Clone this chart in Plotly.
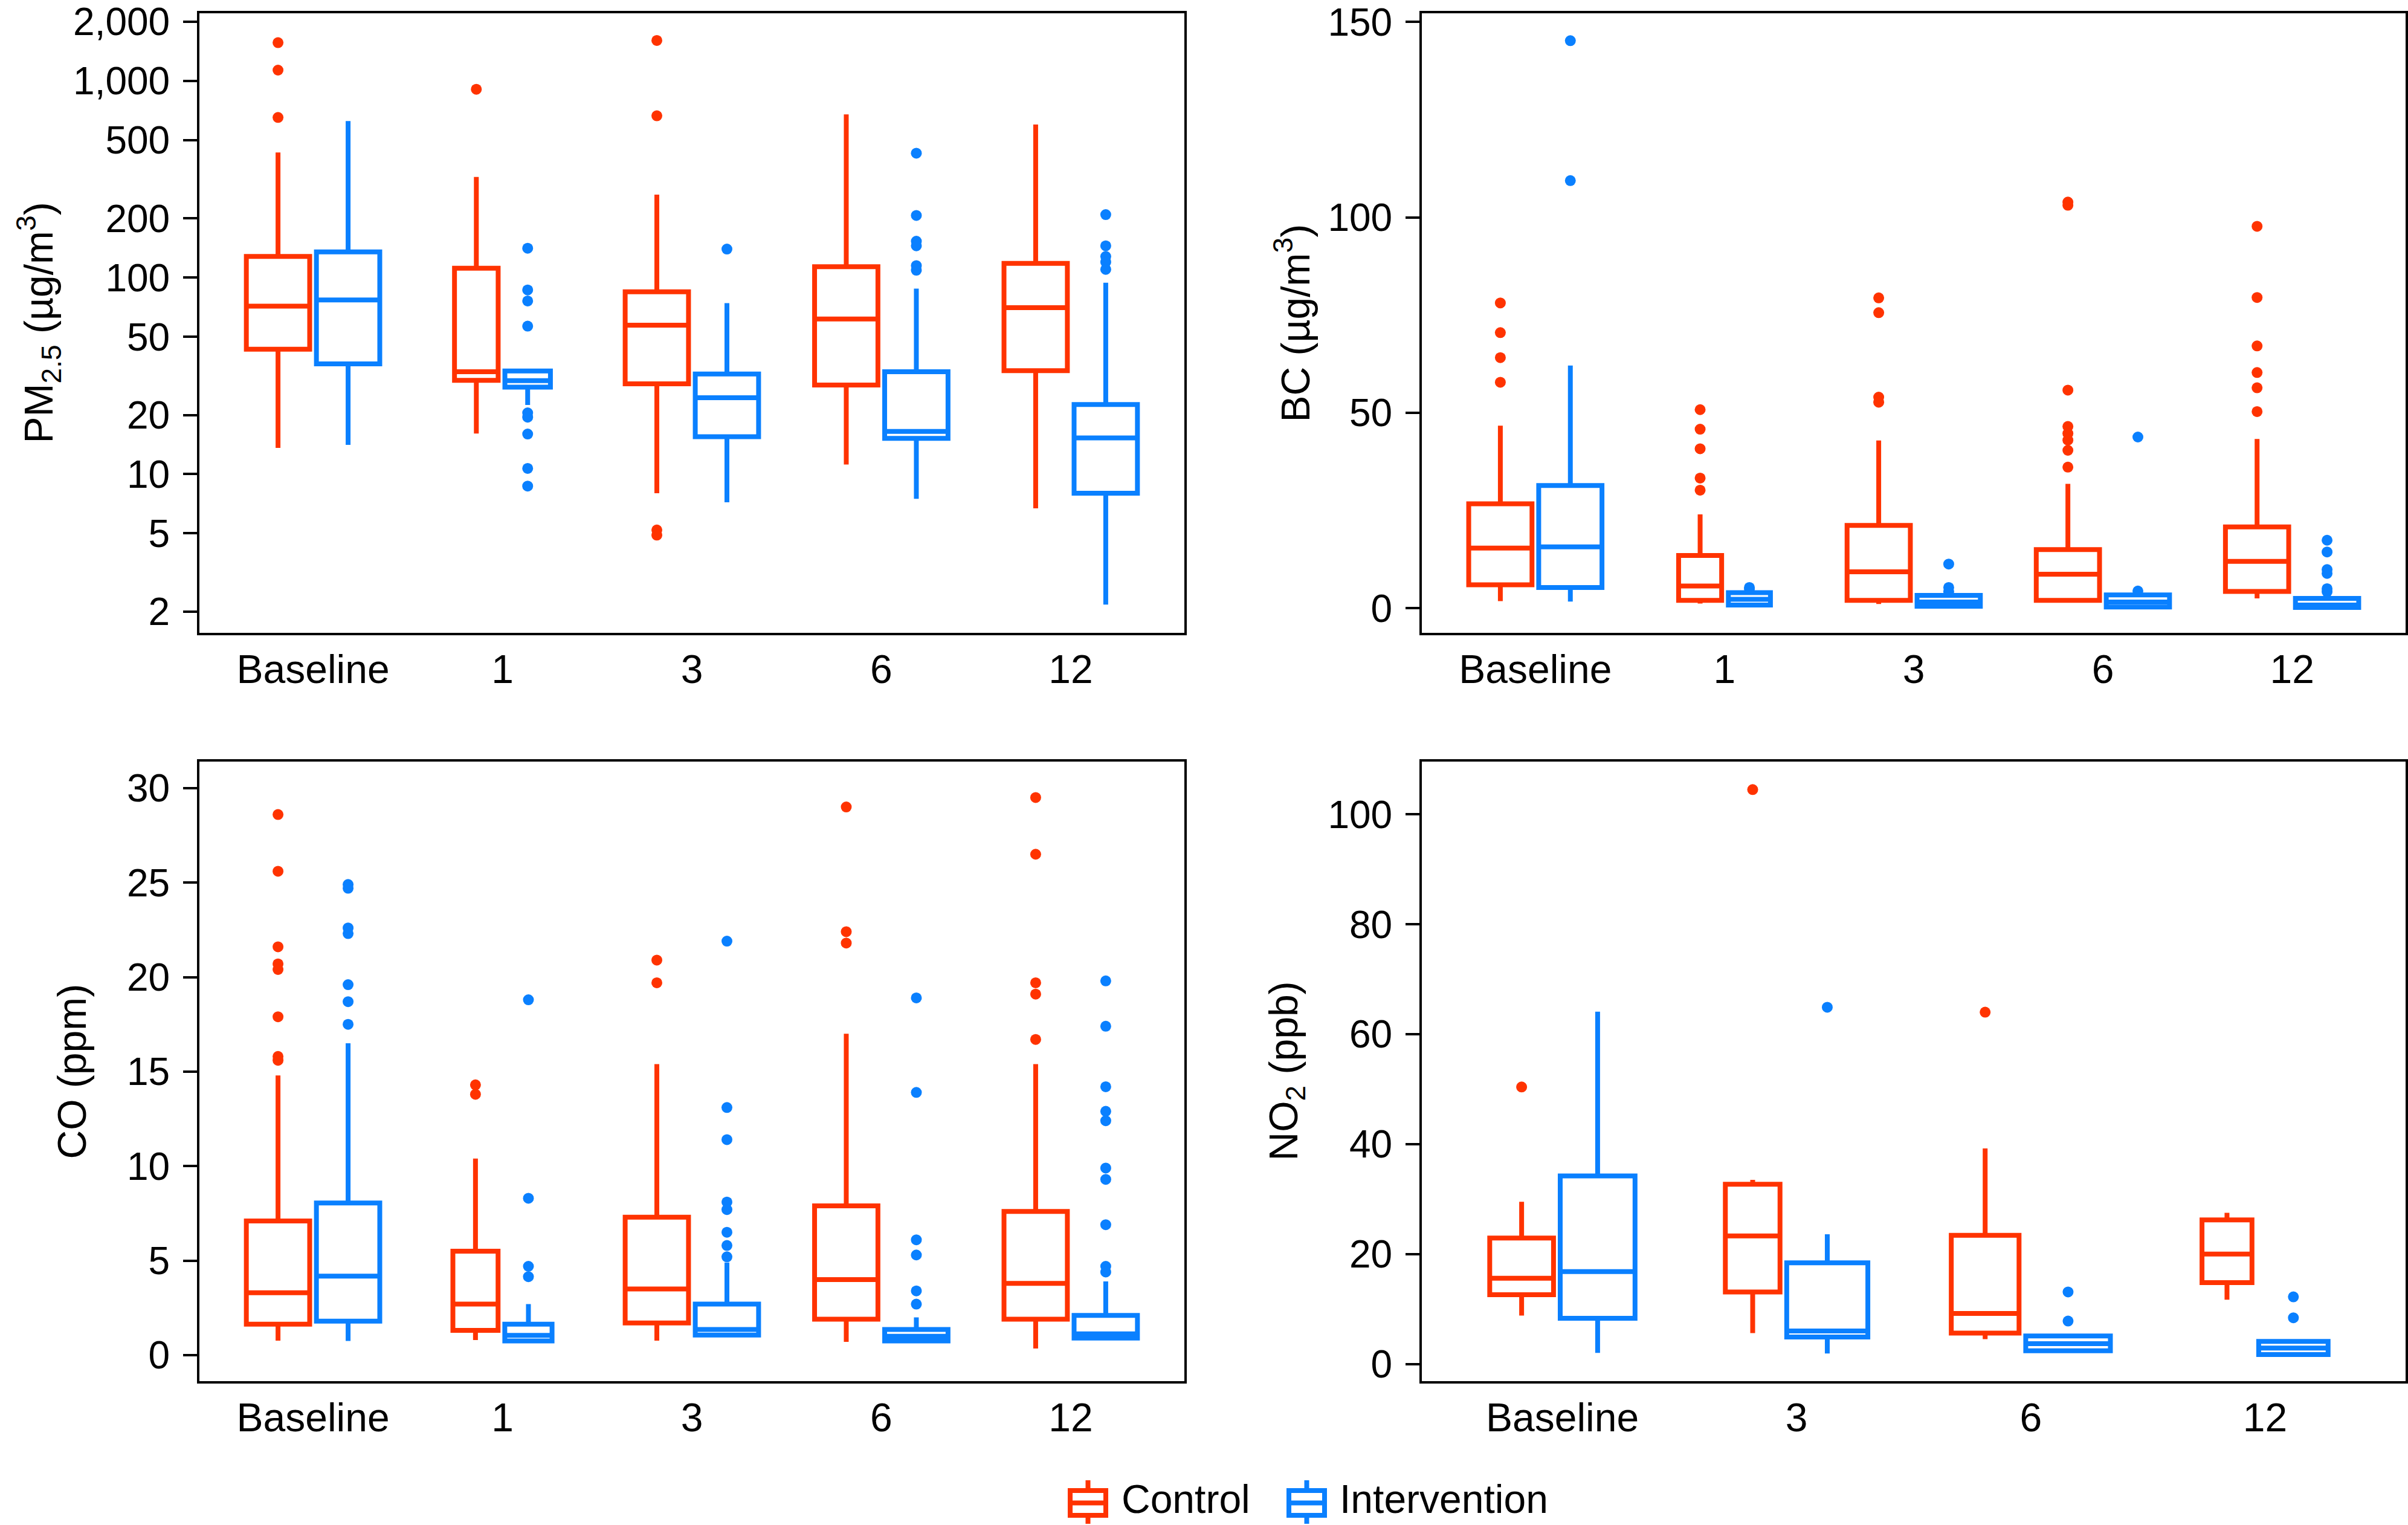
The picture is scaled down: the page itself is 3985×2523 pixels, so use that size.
import plotly.graph_objects as go

# ---- data ----
# each box: (lower whisker, q1, median, q3, upper whisker)
PM_CATS = ["Baseline", "1", "3", "6", "12"]
PM_CONTROL = [(13.6, 43.2, 71.5, 128, 433), (16.1, 30.0, 33.2, 111.6, 325), (8.0, 28.8, 57.2, 84.7, 264),
              (11.2, 28.4, 61.5, 113.5, 676), (6.7, 33.6, 70.3, 118, 600)]
PM_INTERV = [(14.1, 36.4, 76.9, 135, 625), (22.5, 27.7, 29.9, 33.5, 34.2), (7.2, 15.5, 24.5, 32.3, 74.1),
             (7.5, 15.2, 16.5, 33.2, 87.9), (2.17, 8.0, 15.3, 22.6, 94.1)]
PM_CONTROL_OUT = [[1566, 1135, 652], [907], [1607, 665, 5.2, 4.9], [], []]
PM_INTERV_OUT = [[], [141, 86.5, 76, 56.6, 20.5, 19.5, 16, 10.7, 8.7], [139.6],
                 [429, 207, 153, 145, 115, 109], [209, 145, 128, 120, 110]]

BC_CATS = ["Baseline", "1", "3", "6", "12"]
BC_CONTROL = [(1.8, 6.0, 15.4, 26.7, 46.7), (1.2, 2.0, 5.7, 13.5, 24.0), (1.1, 2.0, 9.3, 21.2, 42.9),
              (1.8, 2.0, 8.7, 15.0, 31.8), (2.5, 4.3, 12.0, 20.8, 43.3)]
BC_INTERV = [(1.7, 5.3, 15.7, 31.4, 62.1), (0.2, 0.8, 2.3, 4.0, 4.6), (0.1, 0.5, 1.6, 3.3, 3.6),
             (0.2, 0.3, 1.6, 3.4, 3.6), (0.0, 0.2, 0.8, 2.5, 3.0)]
BC_CONTROL_OUT = [[78.1, 70.5, 64.1, 57.8], [50.8, 45.8, 40.8, 33.3, 30.2], [79.4, 75.6, 54.0, 52.7],
                  [103.9, 103.1, 55.8, 46.5, 44.7, 43.0, 40.4, 36.1], [97.7, 79.5, 67.1, 60.3, 56.4, 50.3]]
BC_INTERV_OUT = [[145.2, 109.4], [5.3, 4.9], [11.3, 5.3, 4.2], [43.8, 4.4], [17.4, 14.4, 9.9, 8.9, 5.0, 4.2]]

CO_CATS = ["Baseline", "1", "3", "6", "12"]
CO_CONTROL = [(0.77, 1.64, 3.3, 7.1, 14.8), (0.8, 1.31, 2.7, 5.5, 10.4), (0.77, 1.7, 3.5, 7.3, 15.4),
              (0.7, 1.9, 4.0, 7.9, 17.0), (0.35, 1.9, 3.8, 7.6, 15.4)]
CO_INTERV = [(0.75, 1.8, 4.18, 8.05, 16.5), (0.7, 0.75, 1.05, 1.64, 2.7), (0.94, 1.06, 1.36, 2.7, 4.9),
             (0.7, 0.75, 1.0, 1.36, 2.0), (0.8, 0.9, 1.13, 2.1, 3.9)]
CO_CONTROL_OUT = [[28.6, 25.6, 21.6, 20.7, 20.4, 17.9, 15.8, 15.6], [14.3, 13.8], [20.9, 19.7],
                  [29.0, 22.4, 21.8], [29.5, 26.5, 19.7, 19.1, 16.7]]
CO_INTERV_OUT = [[24.9, 24.7, 22.6, 22.3, 19.6, 18.7, 17.5], [18.8, 8.3, 4.7, 4.15],
                 [21.9, 13.1, 11.4, 8.1, 7.7, 6.5, 5.8, 5.2], [18.9, 13.9, 6.1, 5.3, 3.4, 2.7],
                 [19.8, 17.4, 14.2, 12.9, 12.4, 9.9, 9.3, 6.9, 4.7, 4.4]]

NO2_CATS = ["Baseline", "3", "6", "12"]
NO2_CONTROL = [(8.8, 12.6, 15.6, 22.9, 29.5), (5.6, 13.1, 23.3, 32.7, 33.5), (4.5, 5.6, 9.2, 23.4, 39.2),
               (11.7, 14.8, 20.0, 26.2, 27.5)]
NO2_INTERV = [(2.0, 8.3, 16.8, 34.2, 64.1), (1.9, 4.9, 6.0, 18.4, 23.6), (2.4, 2.4, 3.7, 5.1, 5.1),
              (1.7, 1.7, 2.9, 4.1, 4.1)]
NO2_CONTROL_OUT = [[50.4], [104.5], [64.0], []]
NO2_INTERV_OUT = [[], [64.9], [13.1, 7.8], [12.2, 8.4]]

PM_TICKS = [2, 5, 10, 20, 50, 100, 200, 500, 1000, 2000]
PM_TICKTEXT = ["2", "5", "10", "20", "50", "100", "200", "500", "1,000", "2,000"]

GROUPS = ["Control", "Intervention"]

# ---- styling ----
RED = "#ff3300"
BLUE = "#0a80ff"
FONT = "Liberation Sans, Arial, Helvetica, sans-serif"
W, H = 3985, 2523
LW = 8  # box line width (px)

# box widths (outer, in category units) - varwidth in the original
S = 0.36
panels = [
    dict(x="x", y="y", cats=PM_CATS, ctrl=PM_CONTROL, intv=PM_INTERV, cout=PM_CONTROL_OUT, iout=PM_INTERV_OUT,
         wc=[S, 0.256, S, S, S], wi=[S, 0.266, S, S, S], unit=313.5, gap=0.01),
    dict(x="x2", y="y2", cats=BC_CATS, ctrl=BC_CONTROL, intv=BC_INTERV, cout=BC_CONTROL_OUT, iout=BC_INTERV_OUT,
         wc=[S, 0.253, S, S, S], wi=[S, 0.248, S, S, S], unit=313.5, gap=0.01),
    dict(x="x3", y="y3", cats=CO_CATS, ctrl=CO_CONTROL, intv=CO_INTERV, cout=CO_CONTROL_OUT, iout=CO_INTERV_OUT,
         wc=[S, 0.264, S, S, S], wi=[S, 0.275, S, S, S], unit=313.5, gap=0.01),
    dict(x="x4", y="y4", cats=NO2_CATS, ctrl=NO2_CONTROL, intv=NO2_INTERV, cout=NO2_CONTROL_OUT, iout=NO2_INTERV_OUT,
         wc=[0.293, 0.254, 0.310, 0.234], wi=[0.340, 0.367, 0.382, 0.317], unit=388.0, gap=0.008),
]

fig = go.Figure()

for p in panels:
    lw_u = LW / p["unit"]
    for i, cat in enumerate(p["cats"]):
        wc, wi = p["wc"][i], p["wi"][i]
        total = wc + p["gap"] + wi
        left = i - total / 2
        xc = left + wc / 2
        xi = left + wc + p["gap"] + wi / 2
        for name, color, stats, outs, xpos, w in [
            (GROUPS[0], RED, p["ctrl"][i], p["cout"][i], xc, wc),
            (GROUPS[1], BLUE, p["intv"][i], p["iout"][i], xi, wi),
        ]:
            lo, q1, med, q3, hi = stats
            fig.add_trace(go.Box(
                x=[xpos], q1=[q1], median=[med], q3=[q3], lowerfence=[lo], upperfence=[hi],
                width=w - lw_u, whiskerwidth=0, fillcolor="white",
                line=dict(color=color, width=LW), boxpoints=False,
                name=name, showlegend=False,
                xaxis=p["x"], yaxis=p["y"], hoverinfo="skip",
            ))
            if outs:
                fig.add_trace(go.Scatter(
                    x=[xpos] * len(outs), y=outs, mode="markers",
                    marker=dict(color=color, size=18, line=dict(width=0)),
                    showlegend=False, xaxis=p["x"], yaxis=p["y"], hoverinfo="skip",
                ))

x_left = [330 / W, 1960 / W]
x_right = [2353 / W, 3981 / W]
y_top = [1 - 1047 / H, 1 - 22 / H]
y_bot = [1 - 2285 / H, 1 - 1260 / H]

axis_common = dict(showline=True, linewidth=4, linecolor="black", mirror=True, showgrid=False, zeroline=False,
                   automargin=False)
xfont = dict(tickfont=dict(family=FONT, size=66, color="black"), ticks="")
ytick = dict(ticks="outside", ticklen=23, tickwidth=4, tickcolor="black", ticklabelstandoff=9,
             tickfont=dict(family=FONT, size=64, color="black"))

fig.update_layout(
    width=W, height=H, margin=dict(l=0, r=0, t=0, b=0, autoexpand=False),
    paper_bgcolor="white", plot_bgcolor="white", showlegend=False,
    font=dict(family=FONT, size=66, color="black"),
    xaxis=dict(domain=x_left, anchor="y", range=[-0.6, 4.6], tickvals=list(range(5)), ticktext=PM_CATS,
               **xfont, **axis_common),
    yaxis=dict(domain=y_top, anchor="x", type="log", range=[0.193, 3.344], tickvals=PM_TICKS,
               ticktext=PM_TICKTEXT, **ytick, **axis_common),
    xaxis2=dict(domain=x_right, anchor="y2", range=[-0.6, 4.6], tickvals=list(range(5)), ticktext=BC_CATS,
                **xfont, **axis_common),
    yaxis2=dict(domain=y_top, anchor="x2", range=[-6.3, 152.2], tickvals=[0, 50, 100, 150], **ytick, **axis_common),
    xaxis3=dict(domain=x_left, anchor="y3", range=[-0.6, 4.6], tickvals=list(range(5)), ticktext=CO_CATS,
                **xfont, **axis_common),
    yaxis3=dict(domain=y_bot, anchor="x3", range=[-1.375, 31.4], tickvals=[0, 5, 10, 15, 20, 25, 30],
                **ytick, **axis_common),
    xaxis4=dict(domain=x_right, anchor="y4", range=[-0.6, 3.6], tickvals=list(range(4)), ticktext=NO2_CATS,
                **xfont, **axis_common),
    yaxis4=dict(domain=y_bot, anchor="x4", range=[-3.13, 109.6], tickvals=[0, 20, 40, 60, 80, 100],
                **ytick, **axis_common),
)

titles = [
    ("PM<sub>2.5</sub> (µg/m<sup>3</sup>)", 64 / W, (y_top[0] + y_top[1]) / 2),
    ("BC (µg/m<sup>3</sup>)", 2139 / W, (y_top[0] + y_top[1]) / 2),
    ("CO (ppm)", 118 / W, (y_bot[0] + y_bot[1]) / 2),
    ("NO<sub>2</sub> (ppb)", 2128 / W, (y_bot[0] + y_bot[1]) / 2),
]
for text, x, y in titles:
    fig.add_annotation(text=text, x=x, y=y, xref="paper", yref="paper", xanchor="center", yanchor="middle",
                       textangle=-90, showarrow=False, font=dict(family=FONT, size=66, color="black"))


# ---- legend drawn as box glyphs (px positions from the original) ----
def px(x, y):
    return x / W, 1 - y / H


for name, color, icon_l, text_l in [(GROUPS[0], RED, 1767, 1854), (GROUPS[1], BLUE, 2129, 2215)]:
    x0, x1 = icon_l + LW / 2, icon_l + 67 - LW / 2
    xm = (x0 + x1) / 2
    line = dict(color=color, width=LW)
    for sx0, sy0, sx1, sy1, kind in [
        (x0, 2466, x1, 2507, "rect"),
        (x0, 2486.5, x1, 2486.5, "line"),
        (xm, 2449, xm, 2466, "line"),
        (xm, 2507, xm, 2521, "line"),
    ]:
        a0, b0 = px(sx0, sy0)
        a1, b1 = px(sx1, sy1)
        fig.add_shape(type=kind, xref="paper", yref="paper", x0=a0, y0=b0, x1=a1, y1=b1, line=line,
                      fillcolor="white" if kind == "rect" else None)
    tx, ty = px(text_l, 2480)
    fig.add_annotation(text=name, x=tx, y=ty, xref="paper", yref="paper", xanchor="left", yanchor="middle",
                       showarrow=False, font=dict(family=FONT, size=66, color="black"))

# the page body has a default 8px margin; remove it so the figure fills the window
fig.write_html("out.html", config={"displayModeBar": False},
               post_script="document.body.style.margin='0';")
